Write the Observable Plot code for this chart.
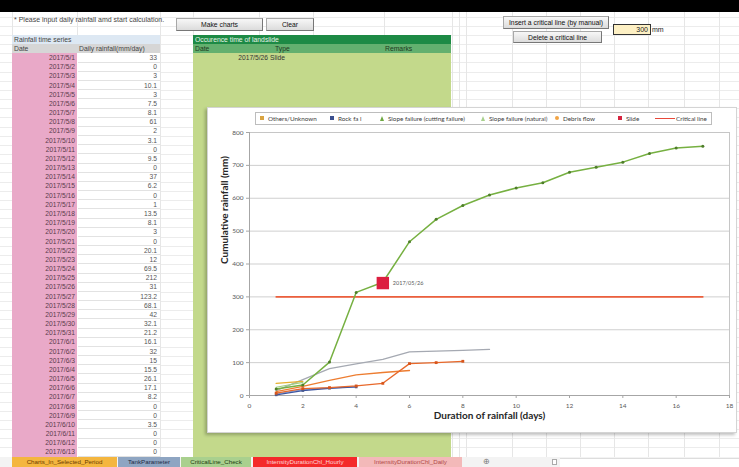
<!DOCTYPE html>
<html><head><meta charset="utf-8">
<script src="https://cdn.jsdelivr.net/npm/d3@7"></script>
<script src="https://cdn.jsdelivr.net/npm/@observablehq/plot@0.6"></script>
<style>
html,body{margin:0;padding:0;}
body{width:739px;height:467px;overflow:hidden;position:relative;background:#fff;font-family:"Liberation Sans",Arial,sans-serif;font-size:6.6px;color:#333;}
.a{position:absolute;box-sizing:border-box;white-space:nowrap;}
.btn{background:linear-gradient(#f7f7f7,#dcdcdc);border:1px solid #a8a8a8;border-right-color:#777;border-bottom-color:#777;text-align:center;font-size:6.8px;color:#111;display:flex;align-items:center;justify-content:center;}
.leg{font-family:Lato,"Noto Sans",sans-serif;font-size:6.3px;color:#404040;}
</style></head><body>
<script>
// ---- data ----
const dates = ["2017/5/1","2017/5/2","2017/5/3","2017/5/4","2017/5/5","2017/5/6","2017/5/7","2017/5/8","2017/5/9","2017/5/10","2017/5/11","2017/5/12","2017/5/13","2017/5/14","2017/5/15","2017/5/16","2017/5/17","2017/5/18","2017/5/19","2017/5/20","2017/5/21","2017/5/22","2017/5/23","2017/5/24","2017/5/25","2017/5/26","2017/5/27","2017/5/28","2017/5/29","2017/5/30","2017/5/31","2017/6/1","2017/6/2","2017/6/3","2017/6/4","2017/6/5","2017/6/6","2017/6/7","2017/6/8","2017/6/9","2017/6/10","2017/6/11","2017/6/12","2017/6/13"];
const rainfall = ["33","0","3","10.1","3","7.5","8.1","61","2","3.1","0","9.5","0","37","6.2","0","1","13.5","8.1","3","0","20.1","12","69.5","212","31","123.2","68.1","42","32.1","21.2","16.1","32","15","15.5","26.1","17.1","8.2","0","0","3.5","0","0","0"];

const xTicks = [0,2,4,6,8,10,12,14,16,18];
const yTicks = [0,100,200,300,400,500,600,700,800];

const cuttingDays = [1,2,3,4,5,6,7,8,9,10,11,12,13,14,15,16,17];
const cuttingRain = [20.1,32.1,101.6,313.6,344.6,467.8,535.9,577.9,610,631.2,647.3,679.3,694.3,709.8,735.9,753,758];
const greyDays = [1,2,3,4,5,6,7,8,9];
const greyRain = [15,48,82,96,110,133,135,137,140];
const orangeADays = [1,2,3,4,5,6];
const orangeARain = [12,28,46,63,70,76];
const orangeBDays = [1,2,3,4,5,6,7,8];
const orangeBRain = [7,21,24,29,37,97,100,104];
const othersDays = [1,2];
const othersRain = [37,43];
const naturalDays = [1,2];
const naturalRain = [25,40];
const rockDays = [1,2,3,4];
const rockRain = [2,15,22,26];
const blueDays = [1,2,3,4];
const blueRain = [5,18,23,26];
const slideDay = [5];
const slideRain = [342];
const slideLabel = ["2017/05/26"];
const criticalDays = [1,17];
const criticalRain = [300,300];

const legendItems = [
  {label:"Others/Unknown", kind:"square", color:"#d9a441", x:260},
  {label:"Rock fa l", kind:"square", color:"#3b4f8e", x:330},
  {label:"Slope failure (cutting failure)", kind:"tri", color:"#6ea842", x:380},
  {label:"Slope failure (natural)", kind:"tri", color:"#a9d18e", x:481},
  {label:"Debris flow", kind:"circle", color:"#f2a444", x:555},
  {label:"Slide", kind:"square", color:"#d6243f", x:618},
  {label:"Critical line", kind:"line", color:"#e8483a", x:655}
];
const tabs = [
  {label:"Charts_In_Selected_Period", bg:"#f4b63f", fg:"#6b3b00", x:12, w:105},
  {label:"TankParameter", bg:"#8ea5c2", fg:"#1c2a44", x:118, w:62},
  {label:"CriticalLine_Check", bg:"#a9d08e", fg:"#213d10", x:181, w:70},
  {label:"IntensityDurationChl_Hourly", bg:"#f42a2a", fg:"#ffd6d6", x:253, w:104},
  {label:"IntensityDurationChl_Daily", bg:"#f3b9b9", fg:"#b04848", x:359, w:103}
];

// ---- helpers ----
const body = document.body;
function box(x,y,w,h,css,text){
  const d=document.createElement("div"); d.className="a";
  Object.assign(d.style,{left:x+"px",top:y+"px",width:w+"px",height:h+"px"});
  if(css) d.style.cssText+=css;
  if(text!==undefined) d.textContent=text;
  body.appendChild(d); return d;
}
const RH = 9.17, R0 = 53.1;

// spreadsheet grid
for(let y=16.5; y<458; y+=RH) box(0,y,739,1,"background:#ececec;");
[12,77,160,193,259,313,384,452,459,466,512,546,580,614,648,684,719].forEach(x=>box(x,12,1,445,"background:#e6e6e6;"));

// top black bar
box(0,0,739,12,"background:#000;");
box(14,15,200,9,"font-size:7px;color:#444;line-height:9px;","* Please input daily rainfall amd start calculation.");
box(176,18,87,13,"","Make charts").className="a btn";
box(266,18,48,13,"","Clear").className="a btn";
box(503,16,106,13,"","Insert a critical line (by manual)").className="a btn";
box(513,31,89,12,"","Delete a critical line").className="a btn";
box(613,24,38,11,"background:#fdf0c4;border:1px solid #333;text-align:right;font-size:7px;line-height:9px;padding-right:2px;color:#222;","300");
box(652,24,20,11,"font-size:7px;line-height:11px;color:#222;","mm");

// rainfall table
box(12,35,148,9,"background:#dde8f3;font-size:6.8px;line-height:9px;padding-left:2px;color:#444;","Rainfall time series");
box(12,44,148,9,"background:#d6d6d6;font-size:6.8px;line-height:9px;padding-left:2px;color:#444;","Date");
box(78,44,82,9,"font-size:6.8px;line-height:9px;padding-left:1px;color:#444;","Daily rainfall(mm/day)");
box(12,R0,65,RH*44,"background:#e9a9c8;");
box(77,R0,83,RH*44,"background:#fff;");
dates.forEach((d,i)=>{
  const y=R0+i*RH;
  box(12,y,63,RH,"text-align:right;font-size:6.7px;line-height:"+RH+"px;color:#5a3a4a;",d);
  box(78,y+RH-0.6,82,0.6,"background:#e2e2e2;");
  box(78,y,79,RH,"text-align:right;font-size:6.7px;line-height:"+RH+"px;color:#555;",rainfall[i]);
});

// landslide panel
box(193,35,258,9,"background:#1d8a45;font-size:6.8px;line-height:9px;padding-left:2px;color:#e8f4e8;","Occurence time of landslide");
box(193,44,258,9,"background:#63b06f;font-size:6.8px;line-height:9px;color:#1f3a20;");
box(195,44,30,9,"font-size:6.8px;line-height:9px;color:#1f3a20;","Date");
box(275,44,30,9,"font-size:6.8px;line-height:9px;color:#1f3a20;","Type");
box(385,44,40,9,"font-size:6.8px;line-height:9px;color:#1f3a20;","Remarks");
box(193,53,258,404,"background:#c3d98b;");
box(200,R0,68,RH,"text-align:right;font-size:6.7px;line-height:"+RH+"px;color:#333;","2017/5/26");
box(270,R0,40,RH,"font-size:6.7px;line-height:"+RH+"px;color:#333;","Slide");

// sheet tabs
box(0,457,739,10,"background:#f3f3f3;");
tabs.forEach(t=>box(t.x,457,t.w,10,"background:"+t.bg+";color:"+t.fg+";font-size:6.2px;line-height:10px;text-align:center;",t.label));
box(480,457,12,10,"font-size:8px;line-height:10px;color:#777;text-align:center;","\u2295");
box(552,459,5,6,"border:1px solid #aaa;background:#fff;");
box(560,458,179,9,"background:#fff;border-top:1px solid #ddd;");

// chart container
box(207,107,530,326,"background:#fff;border:1px solid #d4d4d4;box-shadow:-2px 2px 3px rgba(0,0,0,0.25);");
box(255,112,457,13,"border:1px solid #bdbdbd;background:#fff;");
legendItems.forEach(it=>{
  if(it.kind==="square") box(it.x,116,4,4,"background:"+it.color+";");
  else if(it.kind==="circle") box(it.x,116,4,4,"background:"+it.color+";border-radius:50%;");
  else if(it.kind==="tri") box(it.x,115.5,0,0,"border-left:2.5px solid transparent;border-right:2.5px solid transparent;border-bottom:5px solid "+it.color+";");
  else box(it.x,117.5,20,1.4,"background:"+it.color+";");
  const tx = it.kind==="line" ? it.x+21 : it.x+8;
  const t=box(tx,113,120,11,"line-height:11px;",it.label); t.className="a leg";
});

// ---- plot ----
const toXY=(xs,ys)=>xs.map((x,i)=>({x,y:ys[i]}));
const cutting=toXY(cuttingDays,cuttingRain);
const plot = Plot.plot({
  width:530, height:306,
  marginLeft:42, marginRight:8, marginTop:6, marginBottom:37,
  style:{background:"transparent", color:"#595959", fontFamily:"Lato, 'Noto Sans', sans-serif", fontSize:"6.5px", overflow:"visible"},
  x:{domain:[0,18]},
  y:{domain:[0,800]},
  marks:[
    Plot.ruleY(yTicks.slice(1,-1),{stroke:"#cfcfcf", strokeWidth:1}),
    Plot.frame({stroke:"#c6c6c6"}),
    Plot.ruleY([0],{stroke:"#a6a6a6"}),
    Plot.ruleX([0],{stroke:"#a6a6a6"}),
    Plot.axisX({ticks:xTicks, tickSize:3, tickPadding:5, label:null, stroke:"#a6a6a6", fontSize:6.5}),
    Plot.axisY({ticks:yTicks, tickSize:3, tickPadding:3, label:null, stroke:"#a6a6a6", fontSize:6.5}),
    Plot.text(["Duration of rainfall (days)"],{frameAnchor:"bottom", dy:23, fontWeight:"bold", fontSize:10, fill:"#262626"}),
    Plot.text(["Cumulative rainfall (mm)"],{frameAnchor:"left", dx:-25, rotate:-90, fontWeight:"bold", fontSize:10, fill:"#262626"}),
    Plot.line(toXY(criticalDays,criticalRain),{x:"x",y:"y",stroke:"#ec5f3c",strokeWidth:1.6}),
    Plot.line(toXY(greyDays,greyRain),{x:"x",y:"y",stroke:"#a5a9b2",strokeWidth:1.3}),
    Plot.line(toXY(orangeADays,orangeARain),{x:"x",y:"y",stroke:"#ed7d31",strokeWidth:1.3}),
    Plot.line(toXY(othersDays,othersRain),{x:"x",y:"y",stroke:"#e6b02e",strokeWidth:1.4}),
    Plot.line(toXY(naturalDays,naturalRain),{x:"x",y:"y",stroke:"#9fcf80",strokeWidth:1.2}),
    Plot.line(toXY(blueDays,blueRain),{x:"x",y:"y",stroke:"#8ea9db",strokeWidth:1.2}),
    Plot.line(toXY(rockDays,rockRain),{x:"x",y:"y",stroke:"#3d55a0",strokeWidth:1.3}),
    Plot.dot(toXY(rockDays,rockRain),{x:"x",y:"y",symbol:"square",r:1.5,fill:"#4a5a8e"}),
    Plot.line(toXY(orangeBDays,orangeBRain),{x:"x",y:"y",stroke:"#e8682a",strokeWidth:1.3}),
    Plot.dot(toXY(orangeBDays,orangeBRain),{x:"x",y:"y",symbol:"square",r:1.6,fill:"#d8561c"}),
    Plot.line(cutting,{x:"x",y:"y",stroke:"#76b041",strokeWidth:1.5}),
    Plot.dot(cutting,{x:"x",y:"y",r:1.5,fill:"#4e7d2a"}),
    Plot.dot(toXY(slideDay,slideRain),{x:"x",y:"y",symbol:"square",r:7,fill:"#dc1f40"}),
    Plot.text(toXY(slideDay,slideRain).map((d,i)=>({...d,label:slideLabel[i]})),{x:"x",y:"y",text:"label",dx:10,textAnchor:"start",fontSize:5.5,fill:"#595959"})
  ]
});
const holder=box(207,126,530,306,"");
holder.appendChild(plot);
</script>
</body></html>
